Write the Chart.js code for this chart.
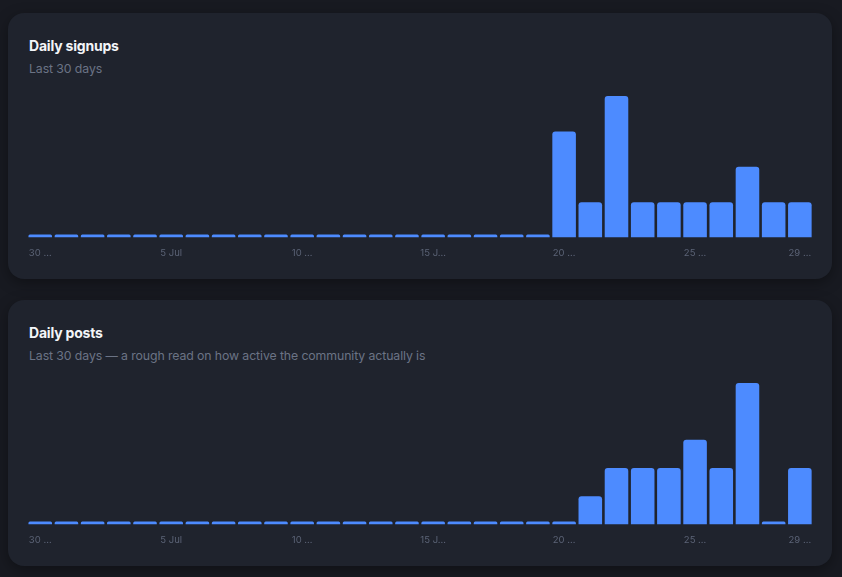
<!DOCTYPE html>
<html lang="en">
  <head>
    <meta charset="UTF-8" />
    <title>Activity</title>
    <script src="https://cdn.jsdelivr.net/npm/chart.js"></script>
    <style>
      html, body { margin: 0; padding: 0; }
      body {
        background: #181a21;
        font-family: Inter, "Noto Sans", sans-serif;
        width: 842px;
        height: 577px;
        overflow: hidden;
      }
      .card {
        position: absolute;
        left: 8px;
        width: 782px;
        height: 233px;
        padding: 23px 21px 10px 21px;
        background: #1f232d;
        border-radius: 16px;
        box-shadow: 0 4px 14px rgba(0, 0, 0, 0.35);
      }
      .card h3 {
        margin: 0;
        font-size: 14px;
        line-height: 20px;
        font-weight: 700;
        color: #f3f5f8;
        letter-spacing: -0.2px;
      }
      .card p {
        margin: 4px 0 0 0;
        font-size: 12.3px;
        line-height: 18px;
        color: #6b7385;
        letter-spacing: -0.1px;
      }
      .chart-box {
        position: relative;
        margin: 18px -10px 0 -10px;
        height: 173px;
      }
    </style>
  </head>
  <body>

    <div class="card" style="top: 13px;">
      <h3>Daily signups</h3>
      <p>Last 30 days</p>
      <div class="chart-box"><canvas id="signupsChart"></canvas></div>
    </div>

    <div class="card" style="top: 300px;">
      <h3>Daily posts</h3>
      <p>Last 30 days — a rough read on how active the community actually is</p>
      <div class="chart-box"><canvas id="postsChart"></canvas></div>
    </div>

    <script>
      // 30 Jun .. 29 Jul
      const days = [
        '30 Jun', '1 Jul', '2 Jul', '3 Jul', '4 Jul', '5 Jul', '6 Jul', '7 Jul', '8 Jul', '9 Jul',
        '10 Jul', '11 Jul', '12 Jul', '13 Jul', '14 Jul', '15 Jul', '16 Jul', '17 Jul', '18 Jul', '19 Jul',
        '20 Jul', '21 Jul', '22 Jul', '23 Jul', '24 Jul', '25 Jul', '26 Jul', '27 Jul', '28 Jul', '29 Jul'
      ];
      const signups = [0, 0, 0, 0, 0, 0, 0, 0, 0, 0, 0, 0, 0, 0, 0, 0, 0, 0, 0, 0, 3, 1, 4, 1, 1, 1, 1, 2, 1, 1];
      const posts = [0, 0, 0, 0, 0, 0, 0, 0, 0, 0, 0, 0, 0, 0, 0, 0, 0, 0, 0, 0, 0, 1, 2, 2, 2, 3, 2, 5, 0, 2];

      // which ticks are shown, and the (truncated) text they show
      const tickIndexes = [0, 5, 10, 15, 20, 25, 29];
      const tickLabels = ['30 …', '5 Jul', '10 …', '15 J…', '20 …', '25 …', '29 …'];

      function dailyChart(id, values) {
        new Chart(document.getElementById(id), {
          type: 'bar',
          data: {
            labels: days,
            datasets: [{
              data: values,
              backgroundColor: '#4d8bff',
              borderRadius: 3,
              minBarLength: 3,
              categoryPercentage: 0.9,
              barPercentage: 1.0
            }]
          },
          options: {
            responsive: true,
            maintainAspectRatio: false,
            animation: false,
            plugins: {
              legend: { display: false },
              tooltip: { enabled: false }
            },
            scales: {
              x: {
                grid: { display: false, drawTicks: false },
                border: { display: false },
                ticks: {
                  autoSkip: false,
                  maxRotation: 0,
                  padding: 10,
                  color: '#5b6376',
                  font: { family: 'Inter', size: 9.5 },
                  callback: (v, i) => {
                    const k = tickIndexes.indexOf(i);
                    return k === -1 ? '' : tickLabels[k];
                  }
                }
              },
              y: {
                display: false,
                beginAtZero: true
              }
            }
          }
        });
      }

      dailyChart('signupsChart', signups);
      dailyChart('postsChart', posts);
    </script>
  </body>
</html>
